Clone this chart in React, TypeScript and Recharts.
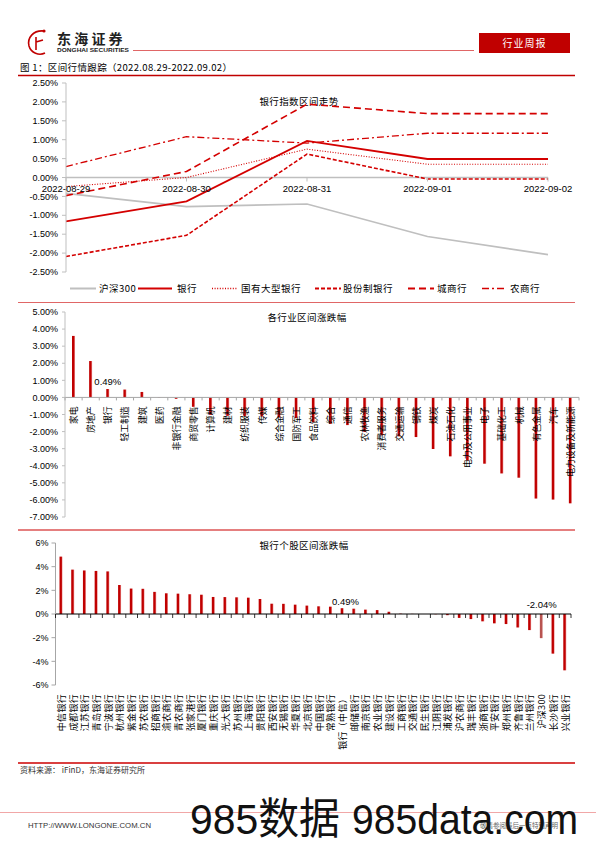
import React from 'react';
import { LineChart, Line, XAxis, YAxis, ReferenceLine, ReferenceDot, BarChart, Bar, Cell } from 'recharts';

// ---------- Chart 1: bank index trend ----------
const dates = ['2022-08-29', '2022-08-30', '2022-08-31', '2022-09-01', '2022-09-02'];
const hs300Idx = [-0.42, -0.77, -0.7, -1.56, -2.04];
const bankIdx = [-1.16, -0.63, 0.97, 0.49, 0.49];
const bigBankIdx = [-0.24, 0.0, 0.75, 0.35, 0.35];
const jointBankIdx = [-2.09, -1.53, 0.62, -0.04, -0.04];
const cityBankIdx = [-0.48, 0.16, 1.94, 1.69, 1.69];
const ruralBankIdx = [0.29, 1.08, 0.91, 1.17, 1.17];
const lineTicks = [2.5, 2, 1.5, 1, 0.5, 0, -0.5, -1, -1.5, -2, -2.5];

// ---------- Chart 2: industries ----------
const industries = ['家电', '房地产', '银行', '轻工制造', '建筑', '医药', '非银行金融', '商贸零售', '计算机', '建材', '纺织服装', '传媒', '综合金融', '国防军工', '食品饮料', '综合', '通信', '农林牧渔', '消费者服务', '交通运输', '钢铁', '煤炭', '石油石化', '电力及公用事业', '电子', '基础化工', '机械', '有色金属', '汽车', '电力设备及新能源'];
const industryChg = [3.6, 2.13, 0.49, 0.46, 0.32, 0.02, -0.08, -0.55, -1.02, -1.08, -1.1, -1.12, -1.18, -1.21, -1.45, -1.55, -1.62, -2.02, -2.22, -2.28, -2.32, -3.02, -3.45, -3.7, -3.88, -4.45, -4.7, -5.92, -5.98, -6.2];
const industryTicks = [5, 4, 3, 2, 1, 0, -1, -2, -3, -4, -5, -6, -7];

// ---------- Chart 3: individual banks ----------
const bankNames = ['中信银行', '成都银行', '江苏银行', '青岛银行', '宁波银行', '杭州银行', '紫金银行', '苏农银行', '招商银行', '渝农商行', '青农商行', '张家港行', '厦门银行', '重庆银行', '光大银行', '苏州银行', '上海银行', '贵阳银行', '西安银行', '无锡银行', '华夏银行', '北京银行', '中国银行', '常熟银行', '银行（中信）', '邮储银行', '南京银行', '农业银行', '建设银行', '工商银行', '交通银行', '民生银行', '江阴银行', '浦发银行', '沪农商行', '瑞丰银行', '浙商银行', '平安银行', '郑州银行', '齐鲁银行', '兰州银行', '沪深300', '长沙银行', '兴业银行'];
const bankChg = [4.85, 3.75, 3.68, 3.64, 3.6, 2.45, 2.15, 2.13, 1.87, 1.75, 1.72, 1.67, 1.63, 1.44, 1.43, 1.41, 1.38, 1.27, 0.87, 0.86, 0.79, 0.71, 0.65, 0.62, 0.49, 0.45, 0.37, 0.33, 0.19, 0.03, 0.01, 0.0, -0.02, -0.1, -0.33, -0.43, -0.62, -0.79, -0.85, -1.14, -1.36, -2.04, -3.35, -4.76];
const bankTicks = [6, 4, 2, 0, -2, -4, -6];

// ---------- styles ----------
const RED = '#C00000';
const LINE_RED = '#D40000';
const CJK = '"Noto Sans CJK SC", "Noto Sans", sans-serif';
const NUM = '"Liberation Sans", Arial, sans-serif';

const lineSeries = [
  { key: 'hs300', name: '沪深300', values: hs300Idx, color: '#BFBFBF', width: 1.6, dash: undefined as string | undefined, lx: 70, len: 26, tx: 99 },
  { key: 'bank', name: '银行', values: bankIdx, color: LINE_RED, width: 1.8, dash: undefined, lx: 138, len: 34, tx: 177 },
  { key: 'big', name: '国有大型银行', values: bigBankIdx, color: LINE_RED, width: 1.1, dash: '1 1.6', lx: 212, len: 26, tx: 241 },
  { key: 'joint', name: '股份制银行', values: jointBankIdx, color: LINE_RED, width: 1.6, dash: '4 2', lx: 315, len: 26, tx: 343 },
  { key: 'city', name: '城商行', values: cityBankIdx, color: LINE_RED, width: 1.6, dash: '7 4', lx: 408, len: 26, tx: 437 },
  { key: 'rural', name: '农商行', values: ruralBankIdx, color: LINE_RED, width: 1.3, dash: '7 3 2 3', lx: 482, len: 22, tx: 510 },
];

const lineData = dates.map((d, i) => {
  const row: Record<string, any> = { date: d };
  lineSeries.forEach((s) => { row[s.key] = s.values[i]; });
  return row;
});
const industryData = industries.map((n, i) => ({ name: n, v: industryChg[i] }));
const bankData = bankNames.map((n, i) => ({ name: n, v: bankChg[i] }));

// chart geometry
const W = 596;
const C1 = { h: 228, m: { top: 8, right: 48, bottom: 31, left: 6 }, yw: 60 };
const C2 = { h: 227, m: { top: 9, right: 17, bottom: 13, left: 5 }, yw: 60 };
const C3 = { h: 233, m: { top: 13, right: 25, bottom: 0, left: 0 }, yw: 55.5, xh: 78 };
const IND_STEP = (W - C2.m.left - C2.yw - C2.m.right) / industries.length;
const BANK_STEP = (W - C3.m.left - C3.yw - C3.m.right) / bankNames.length;

const dateMark = (d: string) => (p: any) => (
  <g>
    <line x1={p.cx} x2={p.cx} y1={p.cy} y2={p.cy + 4} stroke="#BFBFBF" strokeWidth={1} />
    <text x={p.cx} y={p.cy + 14} textAnchor="middle" fontSize={9.5} fontFamily={NUM} fill="#000">{d}</text>
  </g>
);

const industryMark = (name: string, last: boolean) => (p: any) => (
  <g>
    <line x1={p.cx - IND_STEP / 2} x2={p.cx - IND_STEP / 2} y1={p.cy} y2={p.cy + 3} stroke="#A6A6A6" />
    {last && <line x1={p.cx + IND_STEP / 2} x2={p.cx + IND_STEP / 2} y1={p.cy} y2={p.cy + 3} stroke="#A6A6A6" />}
    <text
      transform={`translate(${p.cx},${p.cy + 9}) rotate(-90)`}
      textAnchor="end"
      dominantBaseline="central"
      fontSize={8.8}
      fontFamily={CJK}
      fill="#000"
    >
      {name}
    </text>
  </g>
);

const bankMark = (last: boolean) => (p: any) => (
  <g>
    <line x1={p.cx - BANK_STEP / 2} x2={p.cx - BANK_STEP / 2} y1={p.cy} y2={p.cy + 4} stroke="#000" strokeWidth={0.8} />
    {last && <line x1={p.cx + BANK_STEP / 2} x2={p.cx + BANK_STEP / 2} y1={p.cy} y2={p.cy + 4} stroke="#000" strokeWidth={0.8} />}
  </g>
);

const bankTick = (p: any) => (
  <text
    transform={`translate(${p.x},${p.y + 9}) rotate(-90)`}
    textAnchor="end"
    dominantBaseline="central"
    fontSize={9}
    fontFamily={CJK}
    fill="#000"
    letterSpacing={0.3}
  >
    {p.payload.value}
  </text>
);

const Page = () => (
  <svg width={W} height={842} style={{ position: 'absolute', left: 0, top: 0 }}>
    {/* header logo */}
    <g fill="none" stroke={RED} strokeWidth={1.6}>
      <path d="M44 31 C33 30 27 38 29 46 C31 53 39 56 45 53" />
      <path d="M36 37 L36 50 M36 42 L43 40" />
    </g>
    <circle cx={44} cy={31} r={1.6} fill={RED} />
    <text x={57} y={44} fontSize={14} fontWeight={700} letterSpacing={3.2} fontFamily={CJK} fill="#222">东海证券</text>
    <text x={57} y={52} fontSize={5.5} fontWeight={700} fontFamily={NUM} fill="#222" textLength={72} lengthAdjust="spacingAndGlyphs">DONGHAI SECURITIES</text>
    <line x1={133} x2={474} y1={50.5} y2={50.5} stroke="#E06666" strokeWidth={1} />
    <rect x={479} y={33} width={91} height={20} fill={RED} />
    <text x={524.5} y={47} fontSize={10} fontFamily={CJK} fill="#fff" textAnchor="middle" letterSpacing={1}>行业周报</text>

    {/* figure title */}
    <text x={20} y={70.5} fontSize={9.5} fontFamily={CJK} fill="#000" textLength={212} lengthAdjust="spacing">图 1：区间行情跟踪（2022.08.29-2022.09.02）</text>
    <line x1={18} x2={575} y1={75.5} y2={75.5} stroke={RED} strokeWidth={1.5} />

    {/* chart titles */}
    <text x={299} y={105} fontSize={9.5} fontFamily={CJK} fill="#000" textAnchor="middle" letterSpacing={0.4}>银行指数区间走势</text>
    <text x={307} y={320.5} fontSize={9.5} fontFamily={CJK} fill="#000" textAnchor="middle" letterSpacing={0.4}>各行业区间涨跌幅</text>
    <text x={304} y={548.5} fontSize={9.5} fontFamily={CJK} fill="#000" textAnchor="middle" letterSpacing={0.4}>银行个股区间涨跌幅</text>

    {/* legend for chart 1 */}
    {lineSeries.map((s) => (
      <g key={s.key}>
        <line x1={s.lx} x2={s.lx + s.len} y1={288.5} y2={288.5} stroke={s.color} strokeWidth={s.width + 0.4} strokeDasharray={s.dash} />
        <text x={s.tx} y={292} fontSize={9.5} fontFamily={CJK} fill="#000" letterSpacing={0.5}>{s.name}</text>
      </g>
    ))}

    {/* separators */}
    <line x1={18} x2={575} y1={302.5} y2={302.5} stroke="#E06666" strokeWidth={1} />
    <line x1={18} x2={575} y1={530} y2={530} stroke="#CC0000" strokeWidth={1.2} />
    <line x1={18} x2={575} y1={763} y2={763} stroke="#CC0000" strokeWidth={1.5} />

    <text x={20} y={773} fontSize={8} fontFamily={CJK} fill="#333">资料来源： iFinD，东海证券研究所</text>

    {/* footer */}
    <line x1={0} x2={596} y1={812.5} y2={812.5} stroke="#EE9090" strokeWidth={0.8} />
    <text x={28} y={828} fontSize={7} fontFamily={NUM} fill="#333" textLength={123} lengthAdjust="spacingAndGlyphs">HTTP://WWW.LONGONE.COM.CN</text>
    <text x={480} y={828} fontSize={6.5} fontFamily={CJK} fill="#666">敬请参阅最后一页特别声明</text>
    <text x={190} y={834} fontSize={43} fontFamily={`"Liberation Sans", "Noto Sans CJK SC", sans-serif`} fill="#111" textLength={150} lengthAdjust="spacingAndGlyphs">985数据</text>
    <text x={352} y={834} fontSize={43} fontFamily={NUM} fill="#111" textLength={226} lengthAdjust="spacingAndGlyphs">985data.com</text>
  </svg>
);

export default function App() {
  return (
    <div style={{ position: 'absolute', left: 0, top: 0, width: W, height: 842, background: '#fff' }}>
      <Page />

      {/* Chart 1 */}
      <div style={{ position: 'absolute', left: 0, top: 75 }}>
        <LineChart width={W} height={C1.h} data={lineData} margin={C1.m}>
          <XAxis dataKey="date" hide />
          <YAxis
            width={C1.yw}
            domain={[-2.5, 2.5]}
            ticks={lineTicks}
            interval={0}
            tickFormatter={(v: number) => v.toFixed(2) + '%'}
            tick={{ fontSize: 9, fill: '#000', fontFamily: NUM }}
            axisLine={{ stroke: '#BFBFBF' }}
            tickLine={{ stroke: '#BFBFBF' }}
            tickSize={4}
            tickMargin={4}
          />
          <ReferenceLine y={0} stroke="#BFBFBF" strokeWidth={1.5} />
          {dates.map((d) => (
            <ReferenceDot key={d} x={d} y={0} r={0} shape={dateMark(d)} />
          ))}
          {lineSeries.map((s) => (
            <Line
              key={s.key}
              dataKey={s.key}
              type="linear"
              stroke={s.color}
              strokeWidth={s.width}
              strokeDasharray={s.dash}
              dot={false}
              activeDot={false}
              isAnimationActive={false}
            />
          ))}
        </LineChart>
      </div>

      {/* Chart 2 */}
      <div style={{ position: 'absolute', left: 0, top: 303 }}>
        <BarChart width={W} height={C2.h} data={industryData} margin={C2.m}>
          <defs>
            <linearGradient id="barGrad" x1="0" y1="0" x2="1" y2="0">
              <stop offset="0%" stopColor={RED} />
              <stop offset="62%" stopColor={RED} />
              <stop offset="100%" stopColor="#F0A0A0" />
            </linearGradient>
            <linearGradient id="hsGrad" x1="0" y1="0" x2="1" y2="0">
              <stop offset="0%" stopColor="#B85450" />
              <stop offset="62%" stopColor="#B85450" />
              <stop offset="100%" stopColor="#E8B8B8" />
            </linearGradient>
          </defs>
          <XAxis dataKey="name" hide />
          <YAxis
            width={C2.yw}
            domain={[-7, 5]}
            ticks={industryTicks}
            interval={0}
            tickFormatter={(v: number) => v.toFixed(2) + '%'}
            tick={{ fontSize: 9, fill: '#000', fontFamily: NUM }}
            axisLine={{ stroke: '#BFBFBF' }}
            tickLine={{ stroke: '#BFBFBF' }}
            tickSize={3}
            tickMargin={4}
          />
          <ReferenceLine y={0} stroke="#A6A6A6" strokeWidth={1} />
          <Bar dataKey="v" barSize={3} fill="url(#barGrad)" isAnimationActive={false} />
          {industries.map((n, i) => (
            <ReferenceDot key={n} x={n} y={0} r={0} shape={industryMark(n, i === industries.length - 1)} />
          ))}
          <ReferenceDot
            x={industries[2]}
            y={industryChg[2]}
            r={0}
            label={{ value: industryChg[2].toFixed(2) + '%', position: 'top', offset: 4, fontSize: 9.5, fontFamily: NUM, fill: '#000' }}
          />
        </BarChart>
      </div>

      {/* Chart 3 */}
      <div style={{ position: 'absolute', left: 0, top: 530 }}>
        <BarChart width={W} height={C3.h} data={bankData} margin={C3.m}>
          <XAxis
            dataKey="name"
            interval={0}
            axisLine={false}
            tickLine={false}
            tickSize={0}
            tickMargin={0}
            height={C3.xh}
            tick={bankTick}
          />
          <YAxis
            width={C3.yw}
            domain={[-6, 6]}
            ticks={bankTicks}
            interval={0}
            tickFormatter={(v: number) => v + '%'}
            tick={{ fontSize: 9, fill: '#000', fontFamily: NUM }}
            axisLine={{ stroke: '#A6A6A6' }}
            tickLine={{ stroke: '#A6A6A6' }}
            tickSize={4}
            tickMargin={3}
          />
          <ReferenceLine y={0} stroke="#000" strokeWidth={1} />
          <Bar dataKey="v" barSize={3} isAnimationActive={false}>
            {bankData.map((d) => (
              <Cell key={d.name} fill={d.name === '沪深300' ? 'url(#hsGrad)' : 'url(#barGrad)'} />
            ))}
          </Bar>
          {bankNames.map((n, i) => (
            <ReferenceDot key={n} x={n} y={0} r={0} shape={bankMark(i === bankNames.length - 1)} />
          ))}
          <ReferenceDot
            x={bankNames[24]}
            y={bankChg[24]}
            r={0}
            label={{ value: bankChg[24].toFixed(2) + '%', position: 'top', offset: 3, dx: 3, fontSize: 9.5, fontFamily: NUM, fill: '#000' }}
          />
          <ReferenceDot
            x={bankNames[41]}
            y={0}
            r={0}
            label={{ value: bankChg[41].toFixed(2) + '%', position: 'top', offset: 6, fontSize: 9.5, fontFamily: NUM, fill: '#000' }}
          />
        </BarChart>
      </div>
    </div>
  );
}
